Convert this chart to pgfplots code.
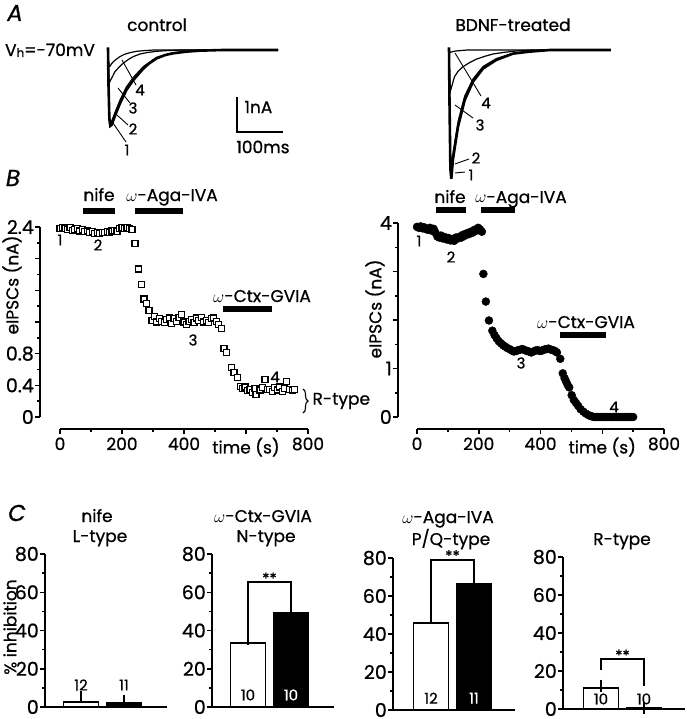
\documentclass[border=0pt]{standalone}
\usepackage{fontspec}
\setmainfont{Poppins}[FakeBold=0.8]
\usepackage{pgfplots}
\pgfplotsset{compat=1.18}
\usetikzlibrary{decorations.pathreplacing}

\newcommand\fs{\fontsize{17pt}{19pt}\selectfont}
\newcommand\fsy{\fontsize{19pt}{21pt}\selectfont}
\newcommand\fsm{\fontsize{15pt}{17pt}\selectfont}
\newcommand\om{$\omega$}

\pgfplotsset{
  base/.style={scale only axis, clip=false, tick align=outside,
    axis line style={line width=1.8pt},
    every tick/.style={black, line width=1.5pt},
    major tick length=5pt, minor tick length=3pt,
    xticklabel style={font=\fs}, yticklabel style={font=\fsy, inner sep=1pt},
    /pgf/number format/assume math mode=true},
  trace/.style={hide axis, scale only axis, clip=false,
    xmin=-10, xmax=400, ymin=-4.2, ymax=0.3, width=188.6pt, height=148.5pt},
  cbar/.style={base, width=122pt, xmin=0, xmax=122, ymin=0, ymax=80,
    axis x line*=bottom, axis y line*=left, xtick=\empty,
    ytick={0,20,40,60,80}, minor y tick num=1},
  bstyle/.style={ybar, bar width=35pt, bar shift=0pt, draw=black, line width=1.8pt},
  errs/.style={error bars/.cd, y dir=plus, y explicit,
    error bar style={line width=1.8pt}, error mark options={line width=1.8pt, mark size=6pt}},
  wbar/.style={bstyle, fill=white, errs},
  kbar/.style={bstyle, fill=black, errs},
}

\begin{document}
\begin{tikzpicture}[font=\fs]
\path[use as bounding box] (0,0) rectangle (686pt,-719pt);

% ---------- A: traces ----------
\begin{axis}[trace, at={(108pt,-50pt)}, anchor=origin]
\addplot[black, line width=1.2pt] coordinates {(0,0)(1,-0.3)(3,-0.5)(5,-0.48)(8,-0.41)(12,-0.35)(19,-0.27)(26,-0.2)(36,-0.13)(48,-0.08)(62,-0.04)(77,-0.02)(100,0)(370,0)};
\addplot[black, line width=1.2pt] coordinates {(0,0)(1,-0.5)(3,-1.0)(5,-0.93)(10,-0.8)(15,-0.66)(24,-0.52)(33,-0.4)(45,-0.28)(55,-0.2)(70,-0.12)(84,-0.08)(105,-0.04)(127,-0.02)(160,0)(370,0)};
\addplot[black, line width=1.2pt] coordinates {(0,0)(1,-1)(3,-2.0)(5,-2.2)(8,-2.15)(15,-1.9)(26,-1.52)(40,-1.12)(55,-0.83)(77,-0.5)(106,-0.22)(142,-0.08)(200,-0.02)(250,0)(370,0)};
\addplot[black, line width=2.6pt] coordinates {(0,0.08)(1,-1.0)(3,-2.1)(5,-2.3)(8,-2.27)(15,-2.0)(26,-1.62)(40,-1.21)(55,-0.91)(77,-0.56)(90,-0.4)(106,-0.25)(125,-0.15)(142,-0.1)(170,-0.05)(200,-0.02)(250,0)(370,0)};
\end{axis}

\begin{axis}[trace, at={(449pt,-50pt)}, anchor=origin]
\addplot[black, line width=1.2pt] coordinates {(0,0)(2,-0.08)(5,-0.06)(15,-0.03)(40,0)(352,0)};
\addplot[black, line width=1.2pt] coordinates {(0,0)(1,-0.6)(3,-1.25)(6,-1.1)(12,-0.81)(20,-0.64)(30,-0.51)(45,-0.38)(59,-0.28)(78,-0.19)(96,-0.12)(120,-0.07)(146,-0.03)(180,0)(352,0)};
\addplot[black, line width=1.2pt] coordinates {(0,0)(1,-1.4)(3,-3.5)(5,-3.75)(9,-3.1)(20,-2.15)(34,-1.4)(52,-0.88)(74,-0.5)(103,-0.26)(139,-0.1)(175,-0.04)(220,0)(352,0)};
\addplot[black, line width=2.6pt] coordinates {(0,0.08)(1,-1.5)(3,-3.6)(5,-3.9)(8.7,-3.3)(19.6,-2.32)(34,-1.52)(52,-0.96)(74,-0.56)(103,-0.3)(139,-0.11)(175,-0.05)(220,0)(352,0)};
\end{axis}

% ---------- B: left (control) ----------
\begin{axis}[base, at={(40pt,-417pt)}, anchor=origin, width=10pt, height=190pt,
  xmin=0, xmax=10, ymin=0, ymax=2.4, axis y line*=left, axis x line=none,
  ytick={0,0.4,0.8,1.2,1.6,2,2.4}, yticklabels={0,0.4,0.8,,,,2.4}, minor y tick num=1]
\end{axis}
\begin{axis}[base, at={(60pt,-417pt)}, anchor=origin, width=248pt, height=202pt,
  xmin=0, xmax=800, ymin=-0.152, ymax=2.4, axis x line*=bottom, axis y line=none,
  xtick={0,200,400,600,800}, xticklabels={0,200,400,time (s),800}, minor x tick num=1]
\addplot[only marks, mark=square*, mark size=3pt, mark options={fill=white, draw=black, line width=1.2pt}] coordinates {
(0,2.38)(8,2.39)(16,2.38)(24,2.37)(32,2.39)(40,2.36)(48,2.37)(56,2.38)(64,2.35)(72,2.37)
(80,2.34)(88,2.35)(96,2.33)(104,2.34)(112,2.32)(120,2.33)(128,2.32)(136,2.33)(144,2.33)(152,2.34)
(160,2.33)(168,2.35)(176,2.36)(184,2.34)(192,2.38)(200,2.39)(208,2.38)(216,2.39)(224,2.38)(232,2.37)
(242,2.19)(252,1.87)(262,1.67)(271,1.49)(279,1.43)(287,1.35)
(297,1.22)(304,1.27)(312,1.20)(320,1.24)(328,1.21)(336,1.19)(344,1.23)(352,1.25)(360,1.18)(368,1.24)
(376,1.21)(384,1.26)(392,1.29)(400,1.20)(408,1.17)(416,1.21)(424,1.23)(432,1.19)(440,1.25)(448,1.22)
(456,1.26)(464,1.20)(472,1.22)(480,1.19)(488,1.24)(496,1.25)(504,1.21)(512,1.17)
(521,1.12)(529,0.87)(536,0.81)(552,0.63)(561,0.56)(572,0.50)
(581,0.39)(589,0.36)(597,0.38)(605,0.33)(613,0.35)(621,0.31)(629,0.36)(632,0.28)(645,0.34)(653,0.37)
(661,0.47)(669,0.35)(677,0.35)(685,0.32)(693,0.37)(701,0.34)(709,0.38)(717,0.32)(725,0.36)(731,0.45)
(741,0.35)(749,0.34)(757,0.35)};
\end{axis}

% ---------- B: right (BDNF) ----------
\begin{axis}[base, at={(398pt,-417pt)}, anchor=origin, width=10pt, height=194pt,
  xmin=0, xmax=10, ymin=0, ymax=4, axis y line*=left, axis x line=none,
  ytick={0,1,2,3,4}, yticklabels={0,1,,,4}, minor y tick num=1]
\end{axis}
\begin{axis}[base, at={(417pt,-417pt)}, anchor=origin, width=247pt, height=206pt,
  xmin=0, xmax=800, ymin=-0.247, ymax=4, axis x line*=bottom, axis y line=none,
  xtick={0,200,400,600,800}, xticklabels={0,200,400,time (s),800}, minor x tick num=1]
\addplot[only marks, mark=*, mark size=4pt, mark options={fill=black, draw=black}] coordinates {
(0,3.92)(6,3.90)(12,3.93)(18,3.89)(24,3.91)(30,3.87)(36,3.86)(42,3.90)(48,3.84)(54,3.88)
(60,3.80)(66,3.72)(72,3.70)(78,3.74)(84,3.68)(90,3.71)(96,3.66)(102,3.69)(108,3.64)(114,3.67)
(120,3.63)(126,3.70)(132,3.68)(138,3.72)(144,3.70)(150,3.76)(156,3.74)(162,3.79)(168,3.77)(174,3.82)
(180,3.80)(186,3.86)(192,3.84)(198,3.90)(204,3.87)(210,3.82)
(215,2.95)(223,2.38)(233,1.99)(244,1.78)(251,1.69)(258,1.62)(265,1.56)(272,1.52)(279,1.48)(286,1.45)
(293,1.42)(300,1.40)(307,1.37)(314,1.35)(321,1.36)(328,1.38)(335,1.39)(342,1.40)(349,1.38)(356,1.36)
(363,1.35)(370,1.33)(377,1.35)(384,1.37)(391,1.38)(398,1.36)(405,1.37)(412,1.39)(419,1.40)(426,1.41)
(433,1.39)(440,1.38)(447,1.36)(453,1.33)
(464,1.20)(472,0.90)(478,0.80)(483,0.73)(488,0.66)(493,0.61)(501,0.45)(508,0.35)(515,0.29)(522,0.23)
(530,0.16)(539,0.11)(547,0.07)(555,0.04)(562,0.02)(568,0.01)(574,0)(580,0)(586,0)(592,0)
(598,0)(604,0)(610,0)(616,0)(622,0)(628,0)(634,0)(640,0)(646,0)(652,0)
(658,0)(664,0)(670,0)(676,0)(682,0)(688,0)(694,0)(700,0)};
\end{axis}

% ---------- C: bar charts ----------
\begin{axis}[cbar, at={(45pt,-707pt)}, anchor=origin, height=153pt]
\addplot[wbar] coordinates {(36,2.8) +- (0,2.6)};
\addplot[kbar] coordinates {(79,2.3) +- (0,1.0)};
\node[font=\fsm] at (axis cs:36,11.5) {12};
\node[font=\fsm] at (axis cs:79,11.5) {11};
\end{axis}

\begin{axis}[cbar, at={(212pt,-707pt)}, anchor=origin, height=153pt]
\addplot[wbar] coordinates {(36,33.6) +- (0,1.8)};
\addplot[kbar] coordinates {(79,49) +- (0,1.7)};
\node[font=\fsm] at (axis cs:36,6.3) {10};
\node[font=\fsm, text=white] at (axis cs:79,6.3) {10};
\draw[line width=1.6pt] (axis cs:36,38.6) -- (axis cs:36,65.5) -- (axis cs:79,65.5) -- (axis cs:79,51);
\node[font=\fsm, anchor=base] at (axis cs:57.5,64.5) {**};
\end{axis}

\begin{axis}[cbar, at={(393pt,-710pt)}, anchor=origin, height=152pt]
\addplot[wbar] coordinates {(38,46) +- (0,5.7)};
\addplot[kbar] coordinates {(81,66.3) +- (0,6.5)};
\node[font=\fsm] at (axis cs:38,6.2) {12};
\node[font=\fsm, text=white] at (axis cs:81,6.2) {11};
\draw[line width=1.6pt] (axis cs:38,54.4) -- (axis cs:38,79) -- (axis cs:81,79) -- (axis cs:81,72.8);
\node[font=\fsm, anchor=base] at (axis cs:59.5,78.3) {**};
\end{axis}

\begin{axis}[cbar, at={(563pt,-709pt)}, anchor=origin, height=152pt]
\addplot[wbar] coordinates {(38,11.1) +- (0,1.2)};
\addplot[kbar] coordinates {(81,0.5) +- (0,0)};
\node[font=\fsm] at (axis cs:38,5.3) {10};
\node[font=\fsm] at (axis cs:81,5.3) {10};
\draw[line width=1.6pt] (axis cs:38,20.3) -- (axis cs:38,26.2) -- (axis cs:81,26.2) -- (axis cs:81,11.9);
\node[font=\fsm, anchor=base] at (axis cs:59.5,25.4) {**};
\end{axis}

% ---------- text and annotations ----------
\begin{scope}[x=1pt, y=-1pt]
% panel letters
\node[font=\fontsize{23pt}{23pt}\selectfont\itshape] at (15,13) {A};
\node[font=\fontsize{23pt}{23pt}\selectfont\itshape] at (13,178) {B};
\node[font=\fontsize{23pt}{23pt}\selectfont\itshape] at (17,513) {C};

% A
\node[anchor=base] at (157,31) {control};
\node[anchor=base] at (513,31) {BDNF-treated};
\node[anchor=base] at (50,56) {V\raisebox{-1pt}{\fontsize{12pt}{12pt}\selectfont h}=-70mV};
\draw[line width=1.6pt] (237,97) -- (237,132) -- (283,132);
\node[anchor=west] at (241,107) {1nA};
\node at (263,147) {100ms};
% control trace labels
\draw[line width=0.9pt] (113,123) -- (126,142); \node[font=\fsm] at (127,150) {1};
\draw[line width=0.9pt] (117,115) -- (128,125); \node[font=\fsm] at (133,129) {2};
\draw[line width=0.9pt] (118,88) -- (130,103);  \node[font=\fsm] at (133,108) {3};
\draw[line width=0.9pt] (122,60) -- (136,85);   \node[font=\fsm] at (140,90) {4};
% BDNF trace labels
\draw[line width=0.9pt] (455,173) -- (465,172); \node[font=\fsm] at (471,175) {1};
\draw[line width=0.9pt] (455,164) -- (469,159); \node[font=\fsm] at (476,158) {2};
\draw[line width=0.9pt] (455,105) -- (473,118); \node[font=\fsm] at (480,125) {3};
\draw[line width=0.9pt] (455,53) -- (481,96);   \node[font=\fsm] at (486,103) {4};

% B left
\node[rotate=90] at (12,285) {eIPSCs (nA)};
\node[anchor=base] at (99,201) {nife};
\node[anchor=base] at (172,201) {\om-Aga-IVA};
\node[anchor=base] at (262,302) {\om-Ctx-GVIA};
\draw[line width=6pt] (83,211) -- (115,211);
\draw[line width=6pt] (135,211) -- (183,211);
\draw[line width=6pt] (223,309) -- (272,309);
\node[font=\fsm] at (60,240) {1};
\node[font=\fsm] at (98,245) {2};
\node[font=\fsm] at (193,340) {3};
\node[font=\fsm] at (275,377) {4};
\draw[line width=1.1pt, decorate, decoration={brace, amplitude=5pt}] (303,389) -- (303,413);
\node[anchor=west] at (309,401) {R-type};

% B right
\node[rotate=90] at (375,309) {eIPSCs (nA)};
\node[anchor=base] at (450,203) {nife};
\node[anchor=base] at (521,203) {\om-Aga-IVA};
\node[anchor=base] at (586,328) {\om-Ctx-GVIA};
\draw[line width=6pt] (436,210) -- (466,210);
\draw[line width=6pt] (481,210) -- (515,210);
\draw[line width=6pt] (560,335) -- (606,335);
\node[font=\fsm] at (419,241) {1};
\node[font=\fsm] at (451,257) {2};
\node[font=\fsm] at (521,363) {3};
\node[font=\fsm] at (614,407) {4};

% C
\node[rotate=90] at (10,627) {\% inhibition};
\node[anchor=base] at (97,522) {nife};
\node[anchor=base] at (100,542) {L-type};
\node[anchor=base] at (263,522) {\om-Ctx-GVIA};
\node[anchor=base] at (266,542) {N-type};
\node[anchor=base] at (448,523) {\om-Aga-IVA};
\node[anchor=base] at (451,545) {P/Q-type};
\node[anchor=base] at (622,545) {R-type};
\end{scope}
\end{tikzpicture}
\end{document}
